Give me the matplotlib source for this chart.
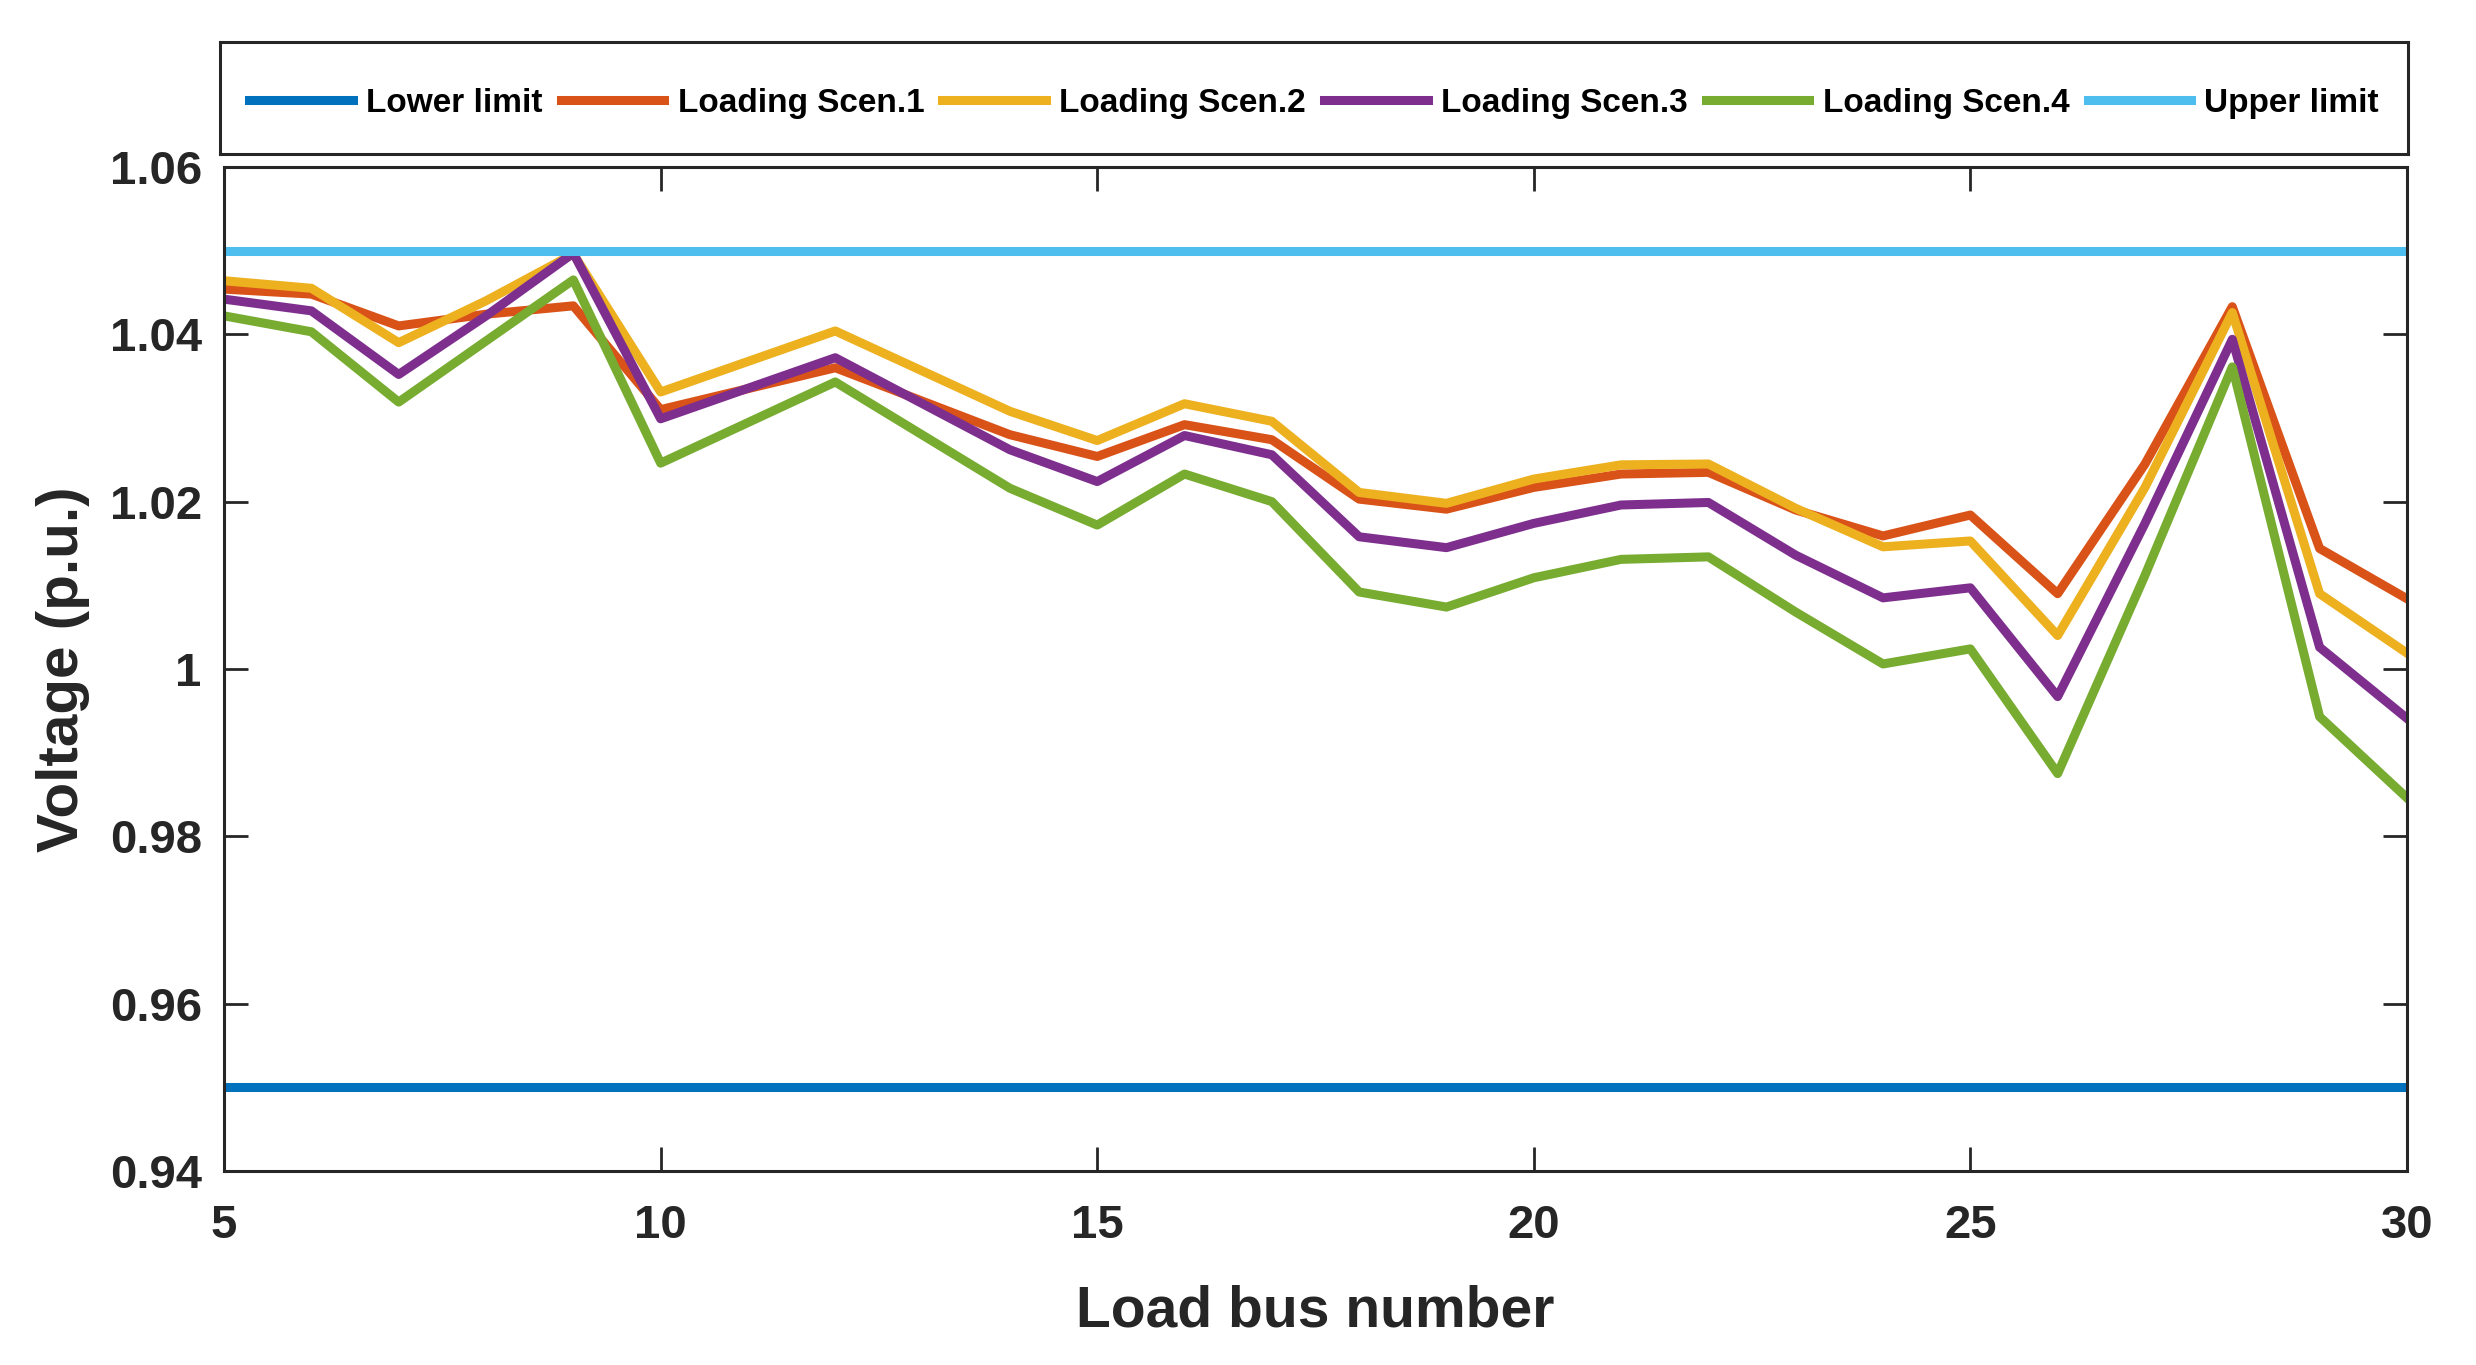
import matplotlib.pyplot as plt
from matplotlib.ticker import FuncFormatter

# load bus voltages for the four loading scenarios
buses = [5, 6, 7, 8, 9, 10, 12, 14, 15, 16, 17, 18, 19, 20, 21, 22, 23, 24, 25, 26, 27, 28, 29, 30]

scen1 = [1.0454, 1.0448, 1.0410, 1.0424, 1.0434, 1.0310, 1.0360, 1.0280, 1.0254, 1.0292, 1.0274, 1.0203,
         1.0191, 1.0217, 1.0233, 1.0235, 1.0190, 1.0159, 1.0184, 1.0090, 1.0245, 1.0433, 1.0144, 1.0084]
scen2 = [1.0464, 1.0455, 1.0390, 1.0440, 1.0496, 1.0331, 1.0404, 1.0308, 1.0273, 1.0317, 1.0296, 1.0211,
         1.0198, 1.0227, 1.0244, 1.0245, 1.0192, 1.0146, 1.0153, 1.0040, 1.0217, 1.0426, 1.0090, 1.0019]
scen3 = [1.0442, 1.0428, 1.0352, 1.0422, 1.0497, 1.0299, 1.0372, 1.0262, 1.0224, 1.0279, 1.0256, 1.0158,
         1.0145, 1.0174, 1.0196, 1.0199, 1.0136, 1.0085, 1.0097, 0.9967, 1.0174, 1.0394, 1.0026, 0.9941]
scen4 = [1.0422, 1.0403, 1.0319, 1.0392, 1.0465, 1.0246, 1.0343, 1.0216, 1.0172, 1.0233, 1.0200, 1.0092,
         1.0074, 1.0109, 1.0131, 1.0134, 1.0068, 1.0006, 1.0024, 0.9875, 1.0112, 1.0361, 0.9943, 0.9846]

lower_limit = 0.95
upper_limit = 1.05

labels = ['Lower limit', 'Loading Scen.1', 'Loading Scen.2', 'Loading Scen.3', 'Loading Scen.4', 'Upper limit']
colors = ['#0072BD', '#D95319', '#EDB120', '#7E2F8E', '#77AC30', '#4DBEEE']

xticks = [5, 10, 15, 20, 25, 30]
yticks = [0.94, 0.96, 0.98, 1.0, 1.02, 1.04, 1.06]

plt.rcParams['font.family'] = ['Liberation Sans', 'DejaVu Sans']
plt.rcParams['font.weight'] = 'bold'

dark = '#262626'
lw = 6.5

fig = plt.figure(figsize=(24.76, 13.65), dpi=100)
ax = fig.add_axes([0.0905, 0.1421, 0.8816, 0.7356])

ax.axhline(lower_limit, color=colors[0], lw=lw, label=labels[0])
for vals, lab, col in zip([scen1, scen2, scen3, scen4], labels[1:5], colors[1:5]):
    ax.plot(buses, vals, color=col, lw=lw, label=lab)
ax.axhline(upper_limit, color=colors[5], lw=lw, label=labels[5])

ax.set_xlim(5, 30)
ax.set_ylim(0.94, 1.06)
ax.set_xticks(xticks)
ax.set_yticks(yticks)
ax.yaxis.set_major_formatter(FuncFormatter(lambda v, p: '%g' % v))

ax.tick_params(direction='in', length=17, width=2, colors=dark, labelsize=34,
               top=True, right=True)
ax.tick_params(axis='x', pad=24)
ax.tick_params(axis='y', pad=16)
for s in ax.spines.values():
    s.set_linewidth(2.2)
    s.set_color(dark)

ax.set_xlabel('Load bus number', fontsize=41, fontweight='bold', color=dark, labelpad=26)
ax.set_ylabel('Voltage (p.u.)', fontsize=42, fontweight='bold', color=dark, labelpad=14)

# legend sits in its own boxed strip above the plot
lax = fig.add_axes([0.0889, 0.8872, 0.8837, 0.082])
lax.set_xticks([])
lax.set_yticks([])
for s in lax.spines.values():
    s.set_linewidth(2.2)
    s.set_color(dark)
h, l = ax.get_legend_handles_labels()
leg = lax.legend(h, l, loc='center', ncol=6, frameon=False,
                 handlelength=3.1, handletextpad=0.4, columnspacing=0.55,
                 bbox_to_anchor=(0.5, 0.45),
                 prop={'weight': 'bold', 'size': 24})

fig.savefig('out.png', dpi=100)
